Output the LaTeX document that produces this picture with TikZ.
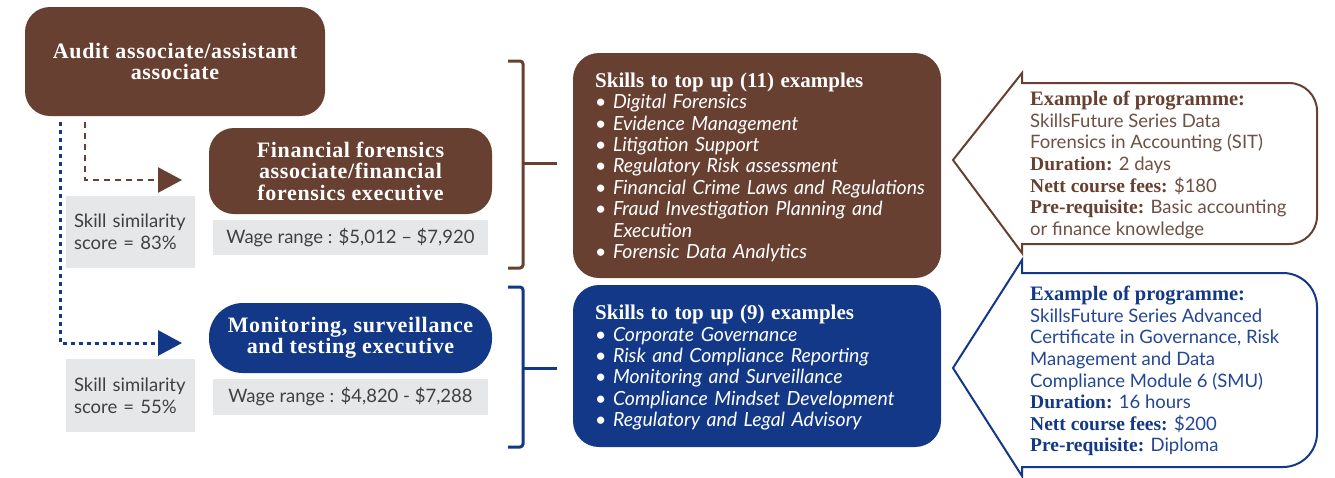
\documentclass[tikz,border=0pt]{standalone}
\usepackage{fontspec}
\setmainfont{Liberation Serif}
\setsansfont{Lato}
\newfontfamily\headserif[LetterSpace=3]{Liberation Serif}
\usetikzlibrary{arrows.meta}
\definecolor{fbrown}{RGB}{103,64,49}
\definecolor{fbrowntext}{RGB}{110,80,68}
\definecolor{fblue}{RGB}{19,56,135}
\definecolor{fbluetext}{RGB}{35,70,150}
\definecolor{fgrey}{RGB}{230,231,232}
\definecolor{fdark}{RGB}{64,64,64}
\newcommand{\titlefont}{\headserif\bfseries\upshape\fontsize{22}{21.5}\selectfont}
\newcommand{\topupfont}{\rmfamily\bfseries\upshape\fontsize{21}{21.3}\selectfont}
\newcommand{\bodyfont}{\sffamily\fontsize{18.5}{21.6}\selectfont}
\newcommand{\itemfont}{\sffamily\itshape\fontsize{19.5}{21.4}\selectfont}
\newcommand{\labelfont}{\rmfamily\bfseries\fontsize{19.5}{21.6}\selectfont}
\tikzset{
  role/.style     = {shape=rectangle, rounded corners=25pt, fill=fbrown,
                     text=white, align=center, font=\titlefont,
                     minimum width=283pt, inner sep=0pt},
  bluerole/.style = {role, fill=fblue, rounded corners=34pt},
  greybox/.style  = {shape=rectangle, fill=fgrey, text=fdark,
                     font=\bodyfont, inner sep=0pt},
  topup/.style    = {shape=rectangle, rounded corners=26pt,
                     minimum width=368pt},
  topuptext/.style= {anchor=north west, align=left, text=white,
                     font=\itemfont, text width=345pt, inner sep=0pt},
  callout/.style  = {line width=2pt, fill=white},
  progtext/.style = {anchor=north west, align=left, font=\bodyfont,
                     inner sep=0pt},
  brace/.style    = {line width=3pt, rounded corners=3pt},
  linkarrow/.style= {line width=2.5pt,
                     -{Triangle[length=24pt,width=25pt]}}
}

\begin{document}
\begin{tikzpicture}[x=1pt,y=-1pt]
  \useasboundingbox[fill=white] (0,0) rectangle (1335,477);

  % career roles
  \node[role, minimum width=300pt, minimum height=109pt] (audit) at (175,61.5)
    {\raisebox{-3pt}{\parbox{280pt}{\centering Audit associate/assistant\\associate}}};
  \node[role, minimum height=86pt] (forensic) at (350.5,171)
    {Financial forensics\\associate/financial\\forensics executive};
  \node[bluerole, minimum height=70pt] (monitor) at (350.5,338)
    {Monitoring, surveillance\\and testing executive};

  \node[greybox, minimum width=275pt, minimum height=35pt] (wageA) at (350.5,237.5)
    {Wage range : \$5,012 -- \$7,920};
  \node[greybox, minimum width=275pt, minimum height=36pt] (wageB) at (350.5,397)
    {Wage range : \$4,820 - \$7,288};
  \node[greybox, minimum width=129pt, minimum height=72pt, align=left,
        text width=113pt] (simA) at (130.5,232)
    {Skill similarity\\score = 83\%};
  \node[greybox, minimum width=129pt, minimum height=73pt, align=left,
        text width=113pt] (simB) at (130.5,395.5)
    {Skill similarity\\score = 55\%};

  % links from the audit role
  \coordinate (startA) at (85,122);
  \coordinate (startB) at (60,122);
  \coordinate (endA) at (182,180);
  \coordinate (endB) at (182,343);
  \draw[linkarrow, fbrown, dash pattern=on 6pt off 5pt] (startA) |- (endA);
  \draw[linkarrow, fblue, line width=3pt, dash pattern=on 4pt off 4pt] (startB) |- (endB);

  % skills to top up
  \node[topup, fill=fbrown, minimum height=225pt] (skillsA) at (757,165.5) {};
  \node[topuptext] (listA) at (595,72.5)
    {{\topupfont Skills to top up (11) examples}\\
     \textbullet\ Digital Forensics\\
     \textbullet\ Evidence Management\\
     \textbullet\ Litigation Support\\
     \textbullet\ Regulatory Risk assessment\\
     \textbullet\ Financial Crime Laws and Regulations\\
     \textbullet\ Fraud Investigation Planning and\\
     \phantom{\textbullet\ }Execution\\
     \textbullet\ Forensic Data Analytics};
  \node[topup, fill=fblue, minimum height=162pt] (skillsB) at (757,366) {};
  \node[topuptext] (listB) at (595,305)
    {{\topupfont Skills to top up (9) examples}\\
     \textbullet\ Corporate Governance\\
     \textbullet\ Risk and Compliance Reporting\\
     \textbullet\ Monitoring and Surveillance\\
     \textbullet\ Compliance Mindset Development\\
     \textbullet\ Regulatory and Legal Advisory};

  % braces
  \coordinate (braceA) at (557,163);
  \coordinate (braceB) at (557,368);
  \draw[brace, fbrown] (508,61) -- (523,61) -- (523,268) -- (508,268);
  \draw[brace, fbrown] (523,163) -- (braceA);
  \draw[brace, fblue] (508,287) -- (523,287) -- (523,447) -- (508,447);
  \draw[brace, fblue] (523,368) -- (braceB);

  % programme callouts
  \draw[callout, draw=fbrown] (953,160) -- (1022,73) -- (1022,83)
    [rounded corners=28pt] -- (1317,83) -- (1317,244)
    [sharp corners] -- (1022,244) -- (1022,253) -- cycle;
  \draw[callout, draw=fblue] (953,368) -- (1022,260) -- (1022,273)
    [rounded corners=34pt] -- (1317,273) -- (1317,467)
    [sharp corners] -- (1022,467) -- (1022,476) -- cycle;

  \node[progtext, text=fbrowntext] (progA) at (1030,91)
    {{\labelfont\fontsize{20.5}{21.6}\selectfont\color{fbrown}Example of programme:}\\
     SkillsFuture Series Data\\
     Forensics in Accounting (SIT)\\
     {\labelfont\color{fbrown}Duration:} 2 days\\
     {\labelfont\color{fbrown}Nett course fees:} \$180\\
     {\labelfont\color{fbrown}Pre-requisite:} Basic accounting\\
     or finance knowledge};
  \node[progtext, text=fbluetext] (progB) at (1030,286)
    {{\labelfont\fontsize{20.5}{21.6}\selectfont\color{fblue}Example of programme:}\\
     SkillsFuture Series Advanced\\
     Certificate in Governance, Risk\\
     Management and Data\\
     Compliance Module 6 (SMU)\\
     {\labelfont\color{fblue}Duration:} 16 hours\\
     {\labelfont\color{fblue}Nett course fees:} \$200\\
     {\labelfont\color{fblue}Pre-requisite:} Diploma};
\end{tikzpicture}
\end{document}
